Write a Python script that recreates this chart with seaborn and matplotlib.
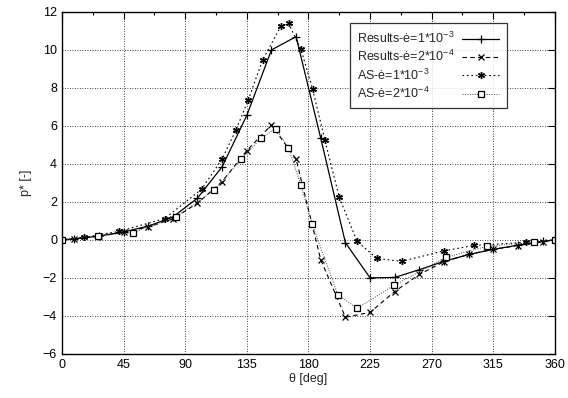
import numpy as np
import pandas as pd
import matplotlib
matplotlib.use("Agg")
import matplotlib.pyplot as plt
import seaborn as sns
from matplotlib.ticker import MultipleLocator

# Angles / pressure coefficients
theta_res = [0, 9, 27, 45, 63, 81, 99, 117, 135, 153, 171, 189, 207, 225,
             243, 261, 279, 297, 315, 333, 351, 360]
p_res_1e3 = [0, 0.05, 0.2, 0.42, 0.72, 1.2, 2.2, 3.85, 6.55, 10.0, 10.7, 5.35,
             -0.15, -2.0, -1.98, -1.57, -1.13, -0.77, -0.5, -0.28, -0.08, 0]
p_res_2e4 = [0, 0.05, 0.18, 0.4, 0.68, 1.1, 1.93, 3.07, 4.7, 6.05, 4.25, -1.05,
             -4.07, -3.82, -2.72, -1.82, -1.15, -0.77, -0.5, -0.3, -0.1, 0]

theta_as_1e3 = [0, 16, 42, 75, 102, 117, 127, 136, 146.5, 160, 165.5, 174.5,
                183, 192, 202.5, 215.5, 230, 248, 279, 301, 339, 360]
p_as_1e3 = [0, 0.13, 0.45, 1.12, 2.67, 4.26, 5.77, 7.35, 9.47, 11.26, 11.4,
            10.05, 7.95, 5.26, 2.24, -0.08, -0.98, -1.13, -0.58, -0.29, -0.13, 0]

theta_as_2e4 = [0, 26, 52, 83, 111, 131, 145.4, 156, 165.4, 174.6, 182.7,
                201.4, 215.5, 242.5, 280.3, 310.2, 344.7, 360]
p_as_2e4 = [0, 0.22, 0.38, 1.2, 2.6, 4.26, 5.35, 5.86, 4.86, 2.87, 0.84,
            -2.88, -3.6, -2.4, -0.92, -0.34, -0.13, 0]

labels = ["Results-ė=1*10$^{-3}$", "Results-ė=2*10$^{-4}$",
          "AS-ė=1*10$^{-3}$", "AS-ė=2*10$^{-4}$"]

sns.set_style("white")
plt.rcParams['font.family'] = ['Liberation Sans', 'DejaVu Sans']
plt.rcParams['mathtext.default'] = 'regular'
plt.rcParams['font.size'] = 9

fig = plt.figure(figsize=(5.68, 3.98), dpi=100)
ax = fig.add_axes([0.109, 0.111, 0.868, 0.859])

sns.lineplot(x=theta_res, y=p_res_1e3, ax=ax, color="black", lw=0.9,
             marker="+", markersize=6, markeredgewidth=0.9,
             markeredgecolor="black",
             estimator=None, sort=False, label=labels[0])
sns.lineplot(x=theta_res, y=p_res_2e4, ax=ax, color="black", lw=0.8,
             linestyle=(0, (4, 3)), marker="x", markersize=5,
             markeredgewidth=0.9, markeredgecolor="black",
             estimator=None, sort=False, label=labels[1])
sns.lineplot(x=theta_as_1e3, y=p_as_1e3, ax=ax, color="black", lw=0.8,
             linestyle=(0, (1.5, 2.5)), marker=(6, 2, 0), markersize=5,
             markeredgewidth=1.0, markeredgecolor="black",
             estimator=None, sort=False, label=labels[2])
sns.lineplot(x=theta_as_2e4, y=p_as_2e4, ax=ax, color="#444444", lw=0.7,
             linestyle=(0, (1, 1.5)), marker="s", markersize=5,
             markerfacecolor="white", markeredgecolor="black",
             markeredgewidth=0.9, estimator=None, sort=False, label=labels[3])

ax.set_xlim(0, 360)
ax.set_ylim(-6, 12)
ax.xaxis.set_major_locator(MultipleLocator(45))
ax.xaxis.set_minor_locator(MultipleLocator(22.5))
ax.yaxis.set_major_locator(MultipleLocator(2))
ax.tick_params(which="both", direction="in", top=True, right=True,
               colors="black", labelsize=9)
ax.tick_params(which="major", length=5, width=0.8)
ax.tick_params(which="minor", length=2.5, width=0.8)
ax.grid(True, which="major", color="black", linestyle=(0, (1, 2)), lw=0.6)
for s in ax.spines.values():
    s.set_color("black")
    s.set_linewidth(1.0)

ax.set_xlabel("θ [deg]", fontsize=9, labelpad=2)
ax.set_ylabel("p* [-]", fontsize=9, labelpad=8)

leg = ax.legend(loc="upper right", bbox_to_anchor=(0.915, 0.985),
                markerfirst=False, frameon=True, fancybox=False,
                edgecolor="black", fontsize=9, handlelength=3.0,
                labelspacing=0.25, borderpad=0.6, handletextpad=0.8)
leg.get_frame().set_linewidth(0.9)

# gnuplot style key: labels left-aligned, samples lined up on the right
for row in leg._legend_handle_box.get_children()[0].get_children():
    row.mode = "expand"
    row.width = 142

fig.savefig("out.png", dpi=100)
